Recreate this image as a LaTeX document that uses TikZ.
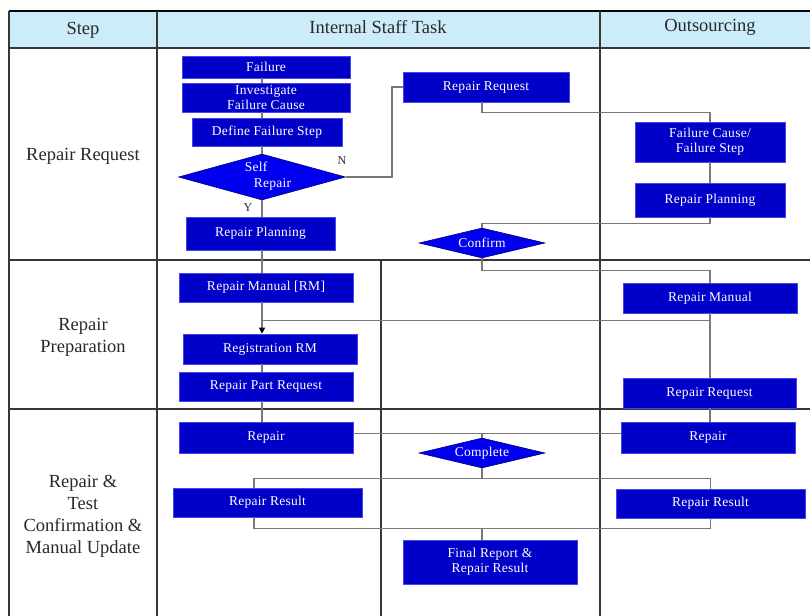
\documentclass[tikz,border=0pt]{standalone}
\usepackage{fontspec}
\setmainfont{Liberation Serif}
\newfontfamily\boxfont[LetterSpace=2]{Liberation Serif}
\usetikzlibrary{shapes.geometric,arrows.meta}

\definecolor{hdrfill}{RGB}{204,236,250}
\definecolor{boxblue}{RGB}{0,0,200}
\definecolor{boxedge}{RGB}{70,70,235}
\definecolor{diafill}{RGB}{0,0,238}
\definecolor{gridline}{RGB}{55,55,55}
\definecolor{connline}{RGB}{120,120,120}
\definecolor{labeltext}{RGB}{40,40,40}

\tikzset{
  taskbox/.style={rectangle, fill=boxblue, draw=boxedge, line width=0.6pt,
    text=white, inner sep=0pt, align=center,
    font=\boxfont\fontsize{13.5}{15}\selectfont},
  decision/.style={diamond, fill=diafill, draw=blue!50!black, line width=0.6pt,
    text=white, inner sep=0pt, aspect=4, align=center,
    font=\boxfont\fontsize{13.5}{15}\selectfont},
  decisiontext/.style={text=white, inner sep=0pt, align=left,
    font=\boxfont\fontsize{13.5}{15.5}\selectfont},
  conn/.style={draw=connline, line width=1.1pt},
  grid/.style={draw=gridline, line width=1.5pt},
  hdrtext/.style={text=labeltext, font=\fontsize{18.5}{22}\selectfont},
  steptext/.style={text=labeltext, align=center, font=\fontsize{18.5}{22}\selectfont},
  yn/.style={text=labeltext, font=\fontsize{12}{14}\selectfont}
}

\begin{document}
\begin{tikzpicture}[x=1pt,y=-1pt]
\useasboundingbox (0,0) rectangle (810,615);
\begin{scope}
\clip (0,0) rectangle (810,615);

% swimlane table
\fill[hdrfill] (9,11) rectangle (812,48);
\draw[line width=2.2pt, black] (9,11) -- (812,11);
\draw[grid] (9,48) -- (812,48);
\draw[grid] (9,260) -- (812,260);
\draw[grid] (9,409) -- (812,409);
\draw[grid] (9,11) -- (9,618);
\draw[grid] (157,11) -- (157,618);
\draw[grid] (600,11) -- (600,618);
\draw[grid] (381,260) -- (381,618);

% column and row titles
\node[hdrtext] (hstep) at (83,30) {Step};
\node[hdrtext] (hint) at (378,27) {Internal Staff Task};
\node[hdrtext] (hout) at (710,27) {Outsourcing};
\node[steptext] (r1) at (83,156) {Repair Request};
\node[steptext] (r2) at (83,337) {Repair\\Preparation};
\node[steptext] (r3) at (83,516) {Repair \&\\Test\\Confirmation \&\\Manual Update};

% trunk lines
\coordinate (tk) at (262,0);
\coordinate (ok) at (710,0);
\coordinate (mk) at (482,0);
\coordinate (rk) at (254,0);
\coordinate (nturn) at (392,0);

% internal staff tasks
\node[taskbox, minimum width=168, minimum height=22] (fail) at (266,67) {Failure};
\node[taskbox, minimum width=168, minimum height=29] (inv) at (266,97.5) {Investigate\\Failure Cause};
\node[taskbox, minimum width=150, minimum height=28] (def) at (267,132) {Define Failure Step};
\node[decision, minimum width=167, minimum height=46] (self) at (262,177) {};
\node[decisiontext] (selftext) at (268,176) {Self\\\hspace*{9pt}Repair};
\node[taskbox, minimum width=149, minimum height=33] (plan) at (260.5,233.5) {Repair Planning};
\node[taskbox, minimum width=166, minimum height=30] (rreq) at (486,87) {Repair Request};
\node[decision, minimum width=126, minimum height=30] (confirm) at (482,243) {Confirm};
\node[taskbox, minimum width=174, minimum height=29] (rmrm) at (266,287.5) {Repair Manual [RM]};
\node[taskbox, minimum width=174, minimum height=30] (reg) at (270,349) {Registration RM};
\node[taskbox, minimum width=174, minimum height=29] (rpart) at (266,386.5) {Repair Part Request};
\node[taskbox, minimum width=174, minimum height=31] (repair) at (266,437.5) {Repair};
\node[decision, minimum width=126, minimum height=30] (complete) at (482,453) {Complete};
\node[taskbox, minimum width=189, minimum height=29] (rres) at (267.5,502.5) {Repair Result};
\node[taskbox, minimum width=174, minimum height=44] (final) at (490,562) {Final Report \&\\Repair Result};

% outsourcing tasks
\node[taskbox, minimum width=150, minimum height=40] (fcause) at (710,142) {Failure Cause/\\Failure Step};
\node[taskbox, minimum width=150, minimum height=34] (oplan) at (710,200) {Repair Planning};
\node[taskbox, minimum width=174, minimum height=30] (rman) at (710,298) {Repair Manual};
\node[taskbox, minimum width=173, minimum height=30] (rreq2) at (709.5,393) {Repair Request};
\node[taskbox, minimum width=174, minimum height=31] (orepair) at (708,437.5) {Repair};
\node[taskbox, minimum width=189, minimum height=29] (orres) at (710.5,503.5) {Repair Result};

% decision branch labels
\node[yn] (nlab) at (342,161) {N};
\node[yn] (ylab) at (248,208) {Y};

% connectors: internal trunk
\draw[conn] (fail.south -| tk) -- (inv.north -| tk);
\draw[conn] (inv.south -| tk) -- (def.north -| tk);
\draw[conn] (def.south -| tk) -- (self.north);
\draw[conn] (self.south) -- (plan.north -| tk);
\draw[conn] (plan.south -| tk) -- (rmrm.north -| tk);
\draw[conn, -{Triangle[length=6pt,width=6pt,fill=black,color=black]}] (rmrm.south -| tk) -- (reg.north -| tk);
\draw[conn] (reg.south -| tk) -- (rpart.north -| tk);
\draw[conn] (rpart.south -| tk) -- (repair.north -| tk);

% connectors: request to outsourcing and back
\draw[conn] (self.east) -| (nturn |- rreq.west) -- (rreq.west);
\draw[conn] (rreq.south -| mk) -- ++(0,10) -| (fcause.north);
\draw[conn] (fcause.south) -- (oplan.north);
\draw[conn] (oplan.south) -- ++(0,6) -| (confirm.north);
\draw[conn] (confirm.south) -- ++(0,12) -| (rman.north);
\draw[conn] (rman.south) -- (rman.south |- rreq2.north);
\path (rman.south) ++(0,7) coordinate (rmjoin);
\draw[conn] (rmjoin) -- (rmjoin -| tk);
\draw[conn] (rreq2.south -| ok) -- (orepair.north -| ok);

% connectors: repair and result
\draw[conn] ([yshift=4pt]repair.east) -- ([yshift=4pt]orepair.west);
\draw[conn] (complete.north) -- ++(0,-5);
\draw[conn] (complete.south) -- ++(0,10) coordinate (cj);
\draw[conn] (rres.north -| rk) |- (cj) -| (orres.north);
\draw[conn] (rres.south -| rk) -- ++(0,11) coordinate (bj) -| (orres.south);
\draw[conn] (mk |- bj) -- (final.north -| mk);
\end{scope}
\end{tikzpicture}
\end{document}
